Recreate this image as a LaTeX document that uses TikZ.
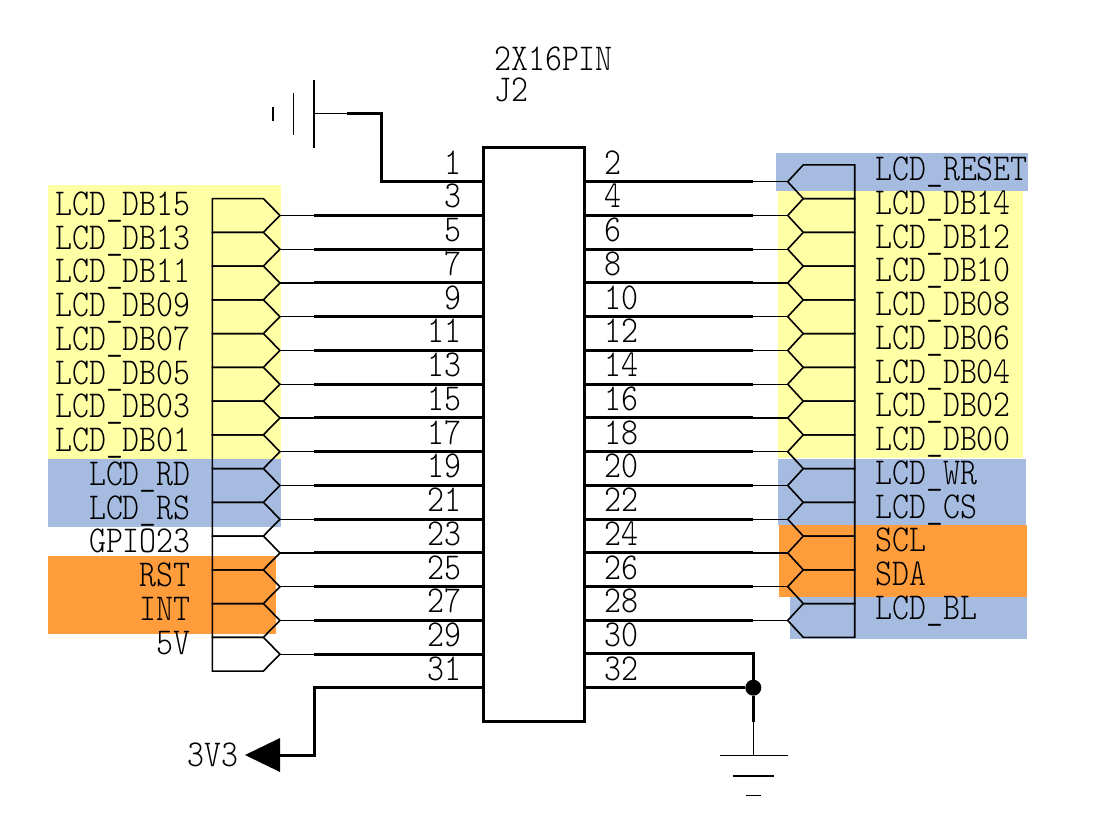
\documentclass[tikz,border=0pt]{standalone}
\usepackage{fontspec}
\setmonofont[FakeStretch=0.85]{Latin Modern Mono Light}
\definecolor{bgyellow}{HTML}{FFFFA6}
\definecolor{bgblue}{HTML}{A6BBE0}
\definecolor{bgorange}{HTML}{FF9C3C}
\tikzset{
  lbl/.style={font=\ttfamily\fontsize{38}{38}\selectfont,inner sep=0pt,text=black},
  lblL/.style={lbl,anchor=base east},
  lblR/.style={lbl,anchor=base west},
  thinw/.style={line width=1.3pt,draw=black},
  thickw/.style={line width=3pt,draw=black},
  port/.style={line width=1.6pt,draw=black,line join=miter}
}
\begin{document}
\begin{tikzpicture}[x=1pt,y=-1pt]
\useasboundingbox (0,0) rectangle (1116,828);
% colour bands
\fill[bgyellow] (48,185) rectangle (281,459);
\fill[bgblue] (48,459) rectangle (281,527);
\fill[bgorange] (48,555.5) rectangle (276,634);
\fill[bgyellow] (777.7,190) rectangle (1022.7,457.5);
\fill[bgblue] (775.7,152.7) rectangle (1027.7,190.7);
\fill[bgblue] (777.7,458.7) rectangle (1026,525);
\fill[bgblue] (790,597) rectangle (1027,639.3);
\fill[bgorange] (779.3,525) rectangle (1027,596.7);
% connector body
\node[draw=black,line width=3pt,fill=white,minimum width=101pt,minimum height=574pt,inner sep=0pt,outer sep=0pt] (J2) at (533.5,434) {};
\node[lblR] (refa) at (494,70) {2X16PIN};
\node[lblR] (refb) at (494,101.7) {J2};
% left signal pins
\foreach \n/\t in {3/LCD\_DB15,5/LCD\_DB13,7/LCD\_DB11,9/LCD\_DB09,11/LCD\_DB07,13/LCD\_DB05,15/LCD\_DB03,17/LCD\_DB01,19/LCD\_RD,21/LCD\_RS,23/GPIO23,25/RST,27/INT,29/5V}{
  \pgfmathsetmacro\yy{181.7+33.75*(\n-1)/2}
  \coordinate (tip\n) at (280,\yy);
  \coordinate (bend\n) at (314,\yy);
  \coordinate (pad\n) at (483,\yy);
  \draw[port] (212.3,\yy-16.9) -- (263.3,\yy-16.9) -- (tip\n) -- (263.3,\yy+16.9) -- (212.3,\yy+16.9) -- cycle;
  \draw[thinw] (tip\n) -- (bend\n);
  \draw[thickw] (bend\n) -- (pad\n);
  \node[lblL] (name\n) at (191,\yy) {\t};
}
% right signal pins
\foreach \n/\t in {2/LCD\_RESET,4/LCD\_DB14,6/LCD\_DB12,8/LCD\_DB10,10/LCD\_DB08,12/LCD\_DB06,14/LCD\_DB04,16/LCD\_DB02,18/LCD\_DB00,20/LCD\_WR,22/LCD\_CS,24/SCL,26/SDA,28/LCD\_BL}{
  \pgfmathsetmacro\yy{181.7+33.75*(\n-2)/2}
  \coordinate (tip\n) at (787.7,\yy);
  \coordinate (bend\n) at (753,\yy);
  \coordinate (pad\n) at (584.5,\yy);
  \draw[port] (854.7,\yy-16.9) -- (803.3,\yy-16.9) -- (tip\n) -- (803.3,\yy+16.9) -- (854.7,\yy+16.9) -- cycle;
  \draw[thinw] (tip\n) -- (bend\n);
  \draw[thickw] (bend\n) -- (pad\n);
  \node[lblR] (name\n) at (875,\yy-1) {\t};
}
% pin numbers
\foreach \n in {1,3,...,31}{
  \pgfmathsetmacro\yy{181.7+33.75*(\n-1)/2-7.5}
  \node[lblL] (num\n) at (462,\yy) {\n};
}
\foreach \n in {2,4,...,32}{
  \pgfmathsetmacro\yy{181.7+33.75*(\n-2)/2-7.5}
  \node[lblR] (num\n) at (604,\yy) {\n};
}
% top ground
\coordinate (gt) at (314,113.7);
\coordinate (gb) at (347,113.7);
\coordinate (gc) at (381.5,113.7);
\coordinate (gd) at (381.5,181.7);
\coordinate (pad1) at (483,181.7);
\draw[line width=1.5pt] (314,80) -- (314,147.5);
\draw[line width=1.5pt] (293.7,93) -- (293.7,134.5);
\draw[line width=1.5pt] (273,107) -- (273,121);
\draw[thinw] (gt) -- (gb);
\draw[thickw,line join=miter] (gb) -- (gc) -- (gd) -- (pad1);
% 3V3 rail
\coordinate (pad31) at (483,687.7);
\coordinate (r1) at (314,687.7);
\coordinate (r2) at (314,755);
\coordinate (arrow) at (280,755);
\fill[black] (245,755) -- (280,738) -- (280,772) -- cycle;
\draw[thickw,line join=miter] (pad31) -- (r1) -- (r2) -- (arrow);
\node[lblL] (vlabel) at (238.5,766) {3V3};
% bottom ground
\coordinate (pad30) at (584.5,653.9);
\coordinate (pad32) at (584.5,687.7);
\coordinate (jtop) at (753.3,653.9);
\coordinate (jbot) at (753.3,721.7);
\coordinate (gnd) at (753.3,755);
\node[circle,fill=black,minimum size=16pt,inner sep=0pt] (dot) at (753.3,687.7) {};
\draw[thickw,line join=miter] (pad30) -- (jtop) -- (dot);
\draw[thickw] (pad32) -- (dot);
\draw[thickw] (dot) -- (jbot);
\draw[thinw] (jbot) -- (gnd);
\draw[line width=1.5pt] (719.5,755.3) -- (788,755.3);
\draw[line width=1.8pt] (732.5,775.7) -- (774,775.7);
\draw[line width=1.8pt] (746,795.5) -- (761,795.5);
\end{tikzpicture}
\end{document}
